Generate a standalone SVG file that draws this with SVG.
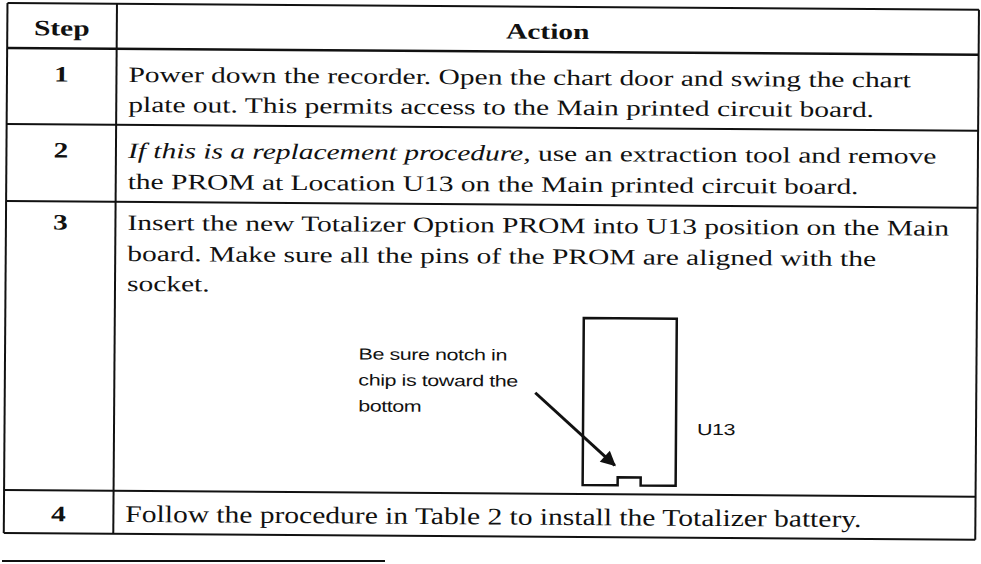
<svg xmlns="http://www.w3.org/2000/svg" width="981" height="564" viewBox="0 0 981 564">
<defs>
<style>
.ln{stroke:#111;stroke-width:2;fill:none}
.st{font-family:"Liberation Serif","Times New Roman",serif;font-size:22px;font-weight:bold;fill:#111;text-anchor:middle}
.tx{font-family:"Liberation Serif","Times New Roman",serif;font-size:22px;fill:#111}
.tx4{font-family:"Liberation Serif","Times New Roman",serif;font-size:24px;fill:#111}
.it{font-style:italic}
.sm{font-family:"Liberation Sans",Arial,sans-serif;font-size:16px;fill:#111;letter-spacing:-0.3px}
</style>
<marker id="ah" viewBox="0 0 10 10" refX="9" refY="5" markerWidth="6.5" markerHeight="5" orient="auto" markerUnits="strokeWidth">
<path d="M0,0 L10,5 L0,10 z" fill="#111"/>
</marker>
</defs>
<rect width="981" height="564" fill="#fff"/>
<g transform="rotate(0.4)">
<g id="grid">
<line class="ln" x1="7.5" y1="3" x2="979" y2="3"/>
<line class="ln" x1="7.5" y1="48" x2="979" y2="48" style="stroke-width:2.5"/>
<line class="ln" x1="7.5" y1="124" x2="979" y2="124"/>
<line class="ln" x1="7.5" y1="201" x2="979" y2="201"/>
<line class="ln" x1="7.5" y1="490" x2="979" y2="490"/>
<line class="ln" x1="7.5" y1="533" x2="979" y2="533"/>
<line class="ln" x1="7.5" y1="3" x2="7.5" y2="533"/>
<line class="ln" x1="117" y1="3" x2="117" y2="533"/>
<line class="ln" x1="979" y1="3" x2="979" y2="533"/>
</g>
<g id="header">
<text class="st" transform="matrix(1.34 0 0 1 62 35)">Step</text>
<text class="st" transform="matrix(1.34 0 0 1 548 35)">Action</text>
</g>
<g id="step1">
<text class="st" transform="matrix(1.34 0 0 1 62 81)">1</text>
<text class="tx" transform="matrix(1.34 0 0 1 129 81)">Power down the recorder. Open the chart door and swing the chart</text>
<text class="tx" transform="matrix(1.34 0 0 1 129 111)">plate out. This permits access to the Main printed circuit board.</text>
</g>
<g id="step2">
<text class="st" transform="matrix(1.34 0 0 1 62 157)">2</text>
<text class="tx" transform="matrix(1.34 0 0 1 129 157)"><tspan class="it">If this is a replacement procedure,</tspan> use an extraction tool and remove</text>
<text class="tx" transform="matrix(1.34 0 0 1 129 188)">the PROM at Location U13 on the Main printed circuit board.</text>
</g>
<g id="step3">
<text class="st" transform="matrix(1.34 0 0 1 62 229)">3</text>
<text class="tx" transform="matrix(1.34 0 0 1 129 229)">Insert the new Totalizer Option PROM into U13 position on the Main</text>
<text class="tx" transform="matrix(1.34 0 0 1 129 260)">board. Make sure all the pins of the PROM are aligned with the</text>
<text class="tx" transform="matrix(1.34 0 0 1 129 290)">socket.</text>
</g>
<g id="chip">
<path class="ln" d="M586,314 H679 V481 H644 V473 H621 V481 H586 Z" style="stroke-width:2.5"/>
<text class="sm" transform="matrix(1.34 0 0 1 700 430)">U13</text>
</g>
<g id="callout">
<text class="sm" transform="matrix(1.34 0 0 1 361 357)">Be sure notch in</text>
<text class="sm" transform="matrix(1.34 0 0 1 361 383)">chip is toward the</text>
<text class="sm" transform="matrix(1.34 0 0 1 361 409)">bottom</text>
</g>
<g id="connectors">
<line x1="538" y1="389" x2="618" y2="461" stroke="#111" stroke-width="3" marker-end="url(#ah)"/>
</g>
<g id="step4">
<text class="st" transform="matrix(1.34 0 0 1 62 521)">4</text>
<text class="tx4" transform="matrix(1.23 0 0 1 129 521)">Follow the procedure in Table 2 to install the Totalizer battery.</text>
</g>
</g>
<line class="ln" x1="2" y1="561" x2="385" y2="561"/>
</svg>
